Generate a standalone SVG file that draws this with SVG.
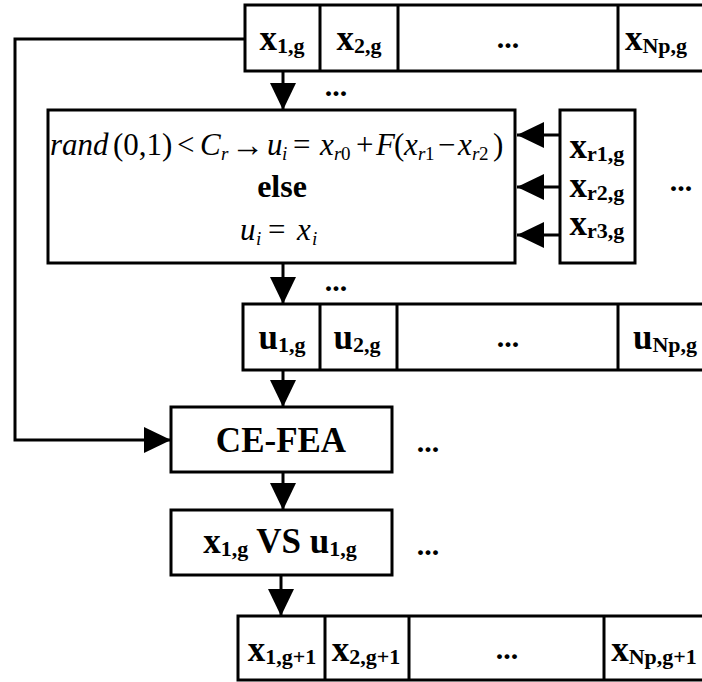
<svg xmlns="http://www.w3.org/2000/svg" width="702" height="682" viewBox="0 0 702 682">
<style>
.box{fill:#fff;stroke:#000;stroke-width:3}
.ln{fill:none;stroke:#000;stroke-width:3}
.lbl{font-family:"Liberation Serif","Times New Roman",serif;font-weight:bold;font-size:35px;fill:#000;text-anchor:middle}
.sub{font-size:22px}
.dots{font-family:"Liberation Serif","Times New Roman",serif;font-weight:bold;font-size:30px;fill:#000;text-anchor:middle}
.m{font-family:"Liberation Serif","Times New Roman",serif;font-size:31px;fill:#000}
.mi{font-style:italic}
.ms{font-size:19px}
</style>
<defs>
<marker id="ah" markerUnits="userSpaceOnUse" markerWidth="27" markerHeight="26" refX="27" refY="13" orient="auto">
<path d="M0,0 L27,13 L0,26 Z" fill="#000"/>
</marker>
</defs>
<rect width="702" height="682" fill="#fff"/>

<g id="row-x">
<rect class="box" x="245" y="5" width="470" height="66"/>
<path class="ln" d="M320,5 V71 M398,5 V71 M618,5 V71"/>
<text class="lbl" x="282" y="50">x<tspan class="sub" dy="3">1,g</tspan></text>
<text class="lbl" x="359" y="50">x<tspan class="sub" dy="3">2,g</tspan></text>
<text class="dots" x="508" y="48">...</text>
<text class="lbl" x="656" y="50">x<tspan class="sub" dy="3">Np,g</tspan></text>
</g>

<g id="mutation">
<rect class="box" x="48" y="110" width="467" height="153"/>
<text class="m">
<tspan class="mi" x="50" y="155">rand</tspan>
<tspan x="113" y="155">(0,1)</tspan>
<tspan x="177" y="155">&lt;</tspan>
<tspan class="mi" x="200" y="155">C</tspan>
<tspan class="mi ms" x="221" y="160">r</tspan>
<tspan x="231" y="155.5" style="font-size:33px">→</tspan>
<tspan class="mi" x="267" y="155">u</tspan>
<tspan class="mi ms" x="282" y="160">i</tspan>
<tspan x="293" y="155">=</tspan>
<tspan class="mi" x="320" y="155">x</tspan>
<tspan class="mi ms" x="334" y="160">r</tspan>
<tspan class="ms" x="341" y="160">0</tspan>
<tspan x="356" y="155">+</tspan>
<tspan class="mi" x="376" y="155">F</tspan>
<tspan x="394" y="155">(</tspan>
<tspan class="mi" x="404" y="155">x</tspan>
<tspan class="mi ms" x="418" y="160">r</tspan>
<tspan class="ms" x="425" y="160">1</tspan>
<tspan x="438" y="155">−</tspan>
<tspan class="mi" x="458" y="155">x</tspan>
<tspan class="mi ms" x="472" y="160">r</tspan>
<tspan class="ms" x="479" y="160">2</tspan>
<tspan x="493" y="155">)</tspan>
</text>
<text class="lbl" x="282" y="197" style="font-size:32px">else</text>
<text class="m">
<tspan class="mi" x="240" y="240">u</tspan>
<tspan class="mi ms" x="256" y="245">i</tspan>
<tspan x="268" y="240">=</tspan>
<tspan class="mi" x="297" y="240">x</tspan>
<tspan class="mi ms" x="312" y="245">i</tspan>
</text>
</g>

<g id="random-vectors">
<rect class="box" x="560" y="110" width="75" height="153"/>
<text class="lbl" x="597" y="158">x<tspan class="sub" dy="3">r1,g</tspan></text>
<text class="lbl" x="597" y="197">x<tspan class="sub" dy="3">r2,g</tspan></text>
<text class="lbl" x="597" y="235">x<tspan class="sub" dy="3">r3,g</tspan></text>
</g>

<g id="row-u">
<rect class="box" x="243" y="304" width="470" height="66"/>
<path class="ln" d="M320,304 V370 M397,304 V370 M618,304 V370"/>
<text class="lbl" x="282" y="349">u<tspan class="sub" dy="3">1,g</tspan></text>
<text class="lbl" x="357" y="349">u<tspan class="sub" dy="3">2,g</tspan></text>
<text class="dots" x="508" y="347">...</text>
<text class="lbl" x="665" y="349">u<tspan class="sub" dy="3">Np,g</tspan></text>
</g>

<g id="cefea">
<rect class="box" x="171" y="407" width="221" height="65"/>
<text class="lbl" x="281" y="452">CE-FEA</text>
</g>

<g id="select">
<rect class="box" x="171" y="510" width="221" height="65"/>
<text class="lbl" x="280" y="553">x<tspan class="sub" dy="3">1,g</tspan><tspan dy="-3"> VS u</tspan><tspan class="sub" dy="3">1,g</tspan></text>
</g>

<g id="row-next">
<rect class="box" x="238" y="616" width="475" height="64"/>
<path class="ln" d="M325,616 V680 M409,616 V680 M604,616 V680"/>
<text class="lbl" x="282" y="661">x<tspan class="sub" dy="3">1,g+1</tspan></text>
<text class="lbl" x="366" y="661">x<tspan class="sub" dy="3">2,g+1</tspan></text>
<text class="dots" x="507" y="659">...</text>
<text class="lbl" x="654" y="661">x<tspan class="sub" dy="3">Np,g+1</tspan></text>
</g>

<g id="ellipses">
<text class="dots" x="336" y="96">...</text>
<text class="dots" x="681" y="191">...</text>
<text class="dots" x="336" y="291">...</text>
<text class="dots" x="428" y="452">...</text>
<text class="dots" x="428" y="555">...</text>
</g>

<g id="connectors">
<path class="ln" d="M283,71 V110" marker-end="url(#ah)"/>
<path class="ln" d="M283,263 V304" marker-end="url(#ah)"/>
<path class="ln" d="M283,370 V407" marker-end="url(#ah)"/>
<path class="ln" d="M283,472 V510" marker-end="url(#ah)"/>
<path class="ln" d="M281,575 V616" marker-end="url(#ah)"/>
<path class="ln" d="M245,39 H15 V440 H171" marker-end="url(#ah)"/>
<path class="ln" d="M560,135 H517" marker-end="url(#ah)"/>
<path class="ln" d="M560,187 H517" marker-end="url(#ah)"/>
<path class="ln" d="M560,235 H517" marker-end="url(#ah)"/>
</g>
</svg>
